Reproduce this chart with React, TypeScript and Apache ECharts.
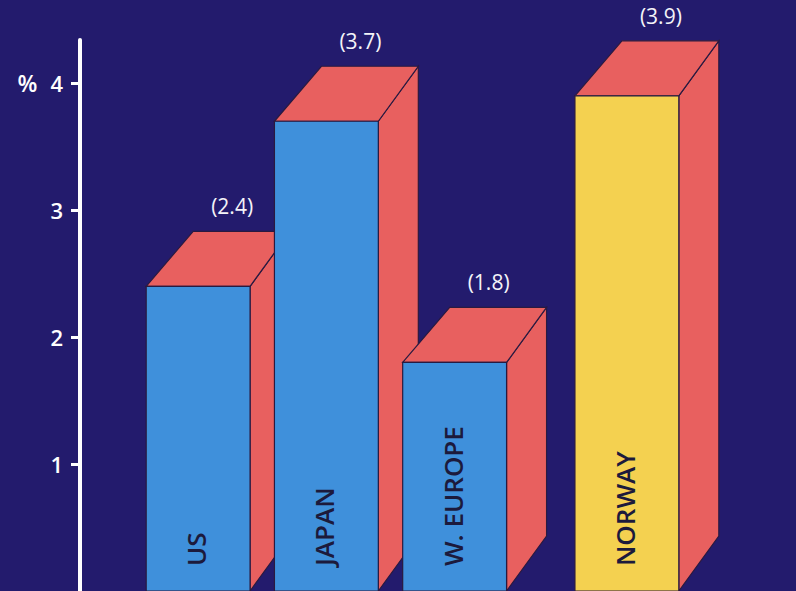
import React, { useEffect, useRef } from "react";
import * as echarts from "echarts";

const categories = ["US", "JAPAN", "W. EUROPE", "NORWAY"];
const values = [2.4, 3.7, 1.8, 3.9];
const yTicks = [1, 2, 3, 4];
const highlightIndex = 3;

const NAVY = "#231b6d";
const BLUE = "#3f90db";
const RED = "#e8605f";
const YELLOW = "#f4d150";
const EDGE = "#2a1a40";
const DARK_TEXT = "#1c1a3c";
const FONT = "'Open Sans', 'DejaVu Sans', sans-serif";

const HIGHLIGHT_GAP = 44;
const DEPTH_LEFT = 47;
const DEPTH_RIGHT = 40;
const DEPTH_UP = 55;

export default function App() {
  const ref = useRef<HTMLDivElement>(null);

  useEffect(() => {
    if (!ref.current) return;
    const chart = echarts.init(ref.current, undefined, { renderer: "svg" });

    const renderItem = (params: any, api: any) => {
      const idx = api.value(0);
      const val = api.value(1);
      const topPt = api.coord([idx, val]);
      const basePt = api.coord([idx, 0]);
      const band = api.size([1, 0])[0];
      const cx = topPt[0] + (idx === highlightIndex ? HIGHLIGHT_GAP : 0);
      const hw = band * 0.405;
      const x0 = cx - hw;
      const x1 = cx + hw;
      const yT = topPt[1];
      const yB = basePt[1];
      const front = idx === highlightIndex ? YELLOW : BLUE;
      return {
        type: "group",
        children: [
          {
            type: "polygon",
            shape: {
              points: [
                [x1, yT],
                [x1 + DEPTH_RIGHT, yT - DEPTH_UP],
                [x1 + DEPTH_RIGHT, yB - DEPTH_UP],
                [x1, yB],
              ],
            },
            style: { fill: RED, stroke: EDGE, lineWidth: 1.2 },
          },
          {
            type: "polygon",
            shape: {
              points: [
                [x0, yT],
                [x0 + DEPTH_LEFT, yT - DEPTH_UP],
                [x1 + DEPTH_RIGHT, yT - DEPTH_UP],
                [x1, yT],
              ],
            },
            style: { fill: RED, stroke: EDGE, lineWidth: 1.2 },
          },
          {
            type: "rect",
            shape: { x: x0, y: yT, width: x1 - x0, height: yB - yT },
            style: { fill: front, stroke: EDGE, lineWidth: 1.2 },
          },
          {
            type: "text",
            x: cx - 2,
            y: yB - 25,
            rotation: Math.PI / 2,
            style: {
              text: categories[idx],
              fill: DARK_TEXT,
              font: `600 26px ${FONT}`,
              align: "left",
              verticalAlign: "middle",
            },
          },
          {
            type: "text",
            x: cx + 34,
            y: yT - DEPTH_UP - 25,
            style: {
              text: `(${val.toFixed(1)})`,
              fill: "#f4f4f8",
              font: `500 21px ${FONT}`,
              align: "center",
              verticalAlign: "middle",
            },
          },
        ],
      };
    };

    chart.setOption({
      animation: false,
      backgroundColor: NAVY,
      grid: { left: 134, right: 149, top: 40, bottom: -7 },
      xAxis: {
        type: "category",
        data: categories,
        show: false,
      },
      yAxis: {
        type: "value",
        min: 0,
        max: 4.34,
        interval: 1,
        offset: 54,
        splitLine: { show: false },
        axisLine: { show: true, lineStyle: { color: "#ffffff", width: 4 } },
        axisTick: {
          show: true,
          inside: false,
          length: 9,
          customValues: yTicks,
          lineStyle: { color: "#ffffff", width: 3 },
        },
        axisLabel: {
          margin: 17,
          color: "#ffffff",
          fontFamily: FONT,
          fontSize: 22,
          fontWeight: 600,
          customValues: yTicks,
          formatter: (v: number) => {
            if (!yTicks.includes(v)) return "";
            if (v === yTicks[yTicks.length - 1]) return `{pct|%}{n|${v}}`;
            return `{n|${v}}`;
          },
          rich: {
            pct: {
              color: "#ffffff",
              fontFamily: FONT,
              fontSize: 23,
              fontWeight: 600,
              padding: [0, 13, 0, 0],
            },
            n: { color: "#ffffff", fontFamily: FONT, fontSize: 22, fontWeight: 600 },
          },
        },
      },
      series: [
        {
          type: "custom",
          renderItem,
          clip: false,
          data: values.map((v, i) => [i, v]),
        },
      ],
    });

    return () => chart.dispose();
  }, []);

  return (
    <div
      ref={ref}
      style={{ position: "fixed", left: 0, top: 0, width: 796, height: 591 }}
    />
  );
}
